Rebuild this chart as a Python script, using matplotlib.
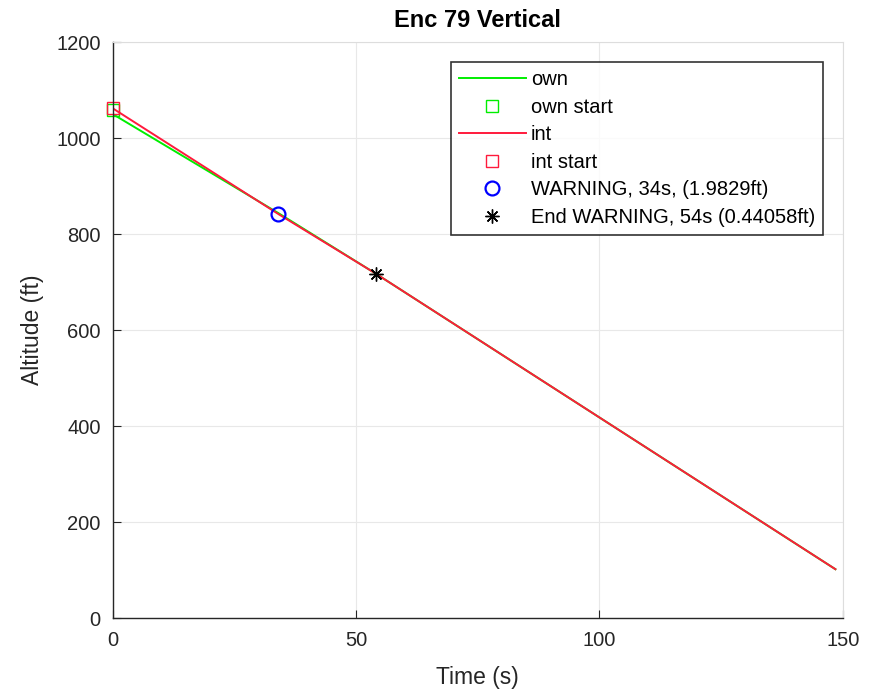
import matplotlib
matplotlib.use("Agg")
import matplotlib.pyplot as plt

plt.rcParams['font.family'] = ['Liberation Sans', 'DejaVu Sans']

# data
own_t = [0, 34, 54, 148.5]
own_alt = [1050, 844, 718, 102]
int_t = [0, 34, 54, 148.5]
int_alt = [1062, 842, 718, 102]
own_start = (0, 1059)
int_start = (0, 1062)
warn_pt = (34, 843)
end_warn_pt = (54, 718)
xticks = [0, 50, 100, 150]
yticks = [0, 200, 400, 600, 800, 1000, 1200]

fig = plt.figure(figsize=(8.76, 6.93), dpi=100)
ax = fig.add_axes([0.129, 0.108, 0.833, 0.831])

ax.plot(own_t, own_alt, color='#00ee00', lw=1.4, label='own')
ax.plot([own_start[0]], [own_start[1]], 's', mfc='none', mec='#00ee00', ms=8, mew=1.0, label='own start', clip_on=False)
ax.plot(int_t, int_alt, color='#ff1a3c', lw=1.4, label='int')
ax.plot([int_start[0]], [int_start[1]], 's', mfc='none', mec='#ff1a3c', ms=8, mew=1.0, label='int start', clip_on=False)
ax.plot([warn_pt[0]], [warn_pt[1]], 'o', mfc='none', mec='#0000ff', ms=10, mew=1.6, label='WARNING, 34s, (1.9829ft)')
ax.plot([end_warn_pt[0]], [end_warn_pt[1]], marker=(8, 2, 0), ls='none', color='black', ms=10, mew=1.0,
        label='End WARNING, 54s (0.44058ft)')

ax.set_xlim(0, 150)
ax.set_ylim(0, 1200)
ax.set_xticks(xticks)
ax.set_yticks(yticks)
ax.tick_params(direction='in', length=6, labelsize=14.5, colors='#262626', pad=9)
ax.grid(True, color='#e8e8e8', lw=0.8)
for side in ['left', 'bottom']:
    ax.spines[side].set_color('#262626')
    ax.spines[side].set_linewidth(1.0)
for side in ['top', 'right']:
    ax.spines[side].set_color('#dddddd')
    ax.spines[side].set_linewidth(0.8)

ax.set_xlabel('Time (s)', fontsize=16.5, color='#262626', labelpad=12)
ax.set_ylabel('Altitude (ft)', fontsize=16.5, color='#262626', labelpad=9)
ax.set_title('Enc 79 Vertical', fontsize=17, fontweight='bold', color='black', pad=11)

leg = ax.legend(loc='upper right', bbox_to_anchor=(0.973, 0.965), fontsize=14.5, handlelength=3.3,
                frameon=True, fancybox=False, edgecolor='black', borderpad=0.4, labelspacing=0.42,
                handletextpad=0.25, borderaxespad=0)
leg.get_frame().set_linewidth(1.2)

fig.savefig('out.png', dpi=100, facecolor='white')
